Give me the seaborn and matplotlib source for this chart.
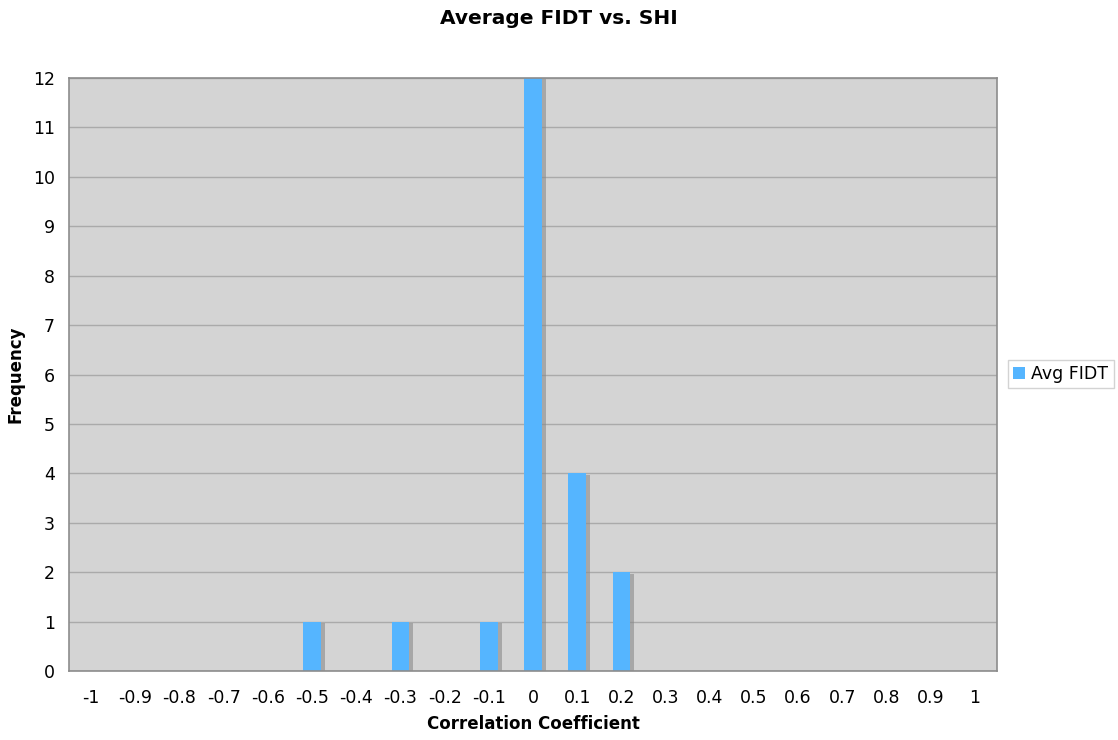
import matplotlib
matplotlib.use("Agg")
import matplotlib.pyplot as plt
import matplotlib.patheffects as pe
import seaborn as sns
import pandas as pd

# Correlation coefficient bins and how many items fell in each
bins = ["-1", "-0.9", "-0.8", "-0.7", "-0.6", "-0.5", "-0.4", "-0.3", "-0.2", "-0.1",
        "0", "0.1", "0.2", "0.3", "0.4", "0.5", "0.6", "0.7", "0.8", "0.9", "1"]
avg_fidt = [0, 0, 0, 0, 0, 1, 0, 1, 0, 1, 12, 4, 2, 0, 0, 0, 0, 0, 0, 0, 0]
series_name = "Avg FIDT"

df = pd.DataFrame({"bin": bins, "count": avg_fidt, "series": series_name})

sns.set_style("white")
plt.rcParams["font.family"] = ["DejaVu Sans"]
plt.rcParams["text.color"] = "black"
plt.rcParams["axes.labelcolor"] = "black"

fig = plt.figure(figsize=(11.18, 7.40), dpi=100)
ax = fig.add_axes([0.0617, 0.0932, 0.8301, 0.8014])

bar_color = "#55b5ff"
sns.barplot(data=df, x="bin", y="count", hue="series", order=bins,
            palette=[bar_color], width=0.4, ax=ax, legend=False,
            saturation=1.0)

for p in ax.patches:
    p.set_edgecolor("none")
    p.set_path_effects([
        pe.SimplePatchShadow(offset=(3, -1), shadow_rgbFace="#8a8a8a", alpha=0.6),
        pe.Normal(),
    ])

ax.set_facecolor("#d4d4d4")
ax.set_xlim(-0.5, len(bins) - 0.5)
ax.set_ylim(0, 12)
ax.set_yticks(range(0, 13))
ax.grid(axis="y", color="#aaaaaa", linewidth=1.0)
ax.set_axisbelow(True)

for side in ["left", "bottom", "top", "right"]:
    ax.spines[side].set_visible(True)
    ax.spines[side].set_color("#8c8c8c")
    ax.spines[side].set_linewidth(1.2)

# ticks on the x axis sit between the bins
ax.set_xticks(range(len(bins)))
ax.set_xticklabels(bins)
ax.set_xticks([i - 0.5 for i in range(len(bins) + 1)], minor=True)
ax.tick_params(axis="x", which="major", length=0, pad=13, labelsize=12.5)
ax.tick_params(axis="x", which="minor", length=6, color="#8c8c8c", width=1)
ax.tick_params(axis="y", which="major", length=6, color="#8c8c8c", width=1,
               labelsize=12.5, pad=4)
for lbl in ax.get_xticklabels() + ax.get_yticklabels():
    lbl.set_color("black")

ax.set_xlabel("Correlation Coefficient", fontsize=12, fontweight="bold", labelpad=6)
ax.set_ylabel("Frequency", fontsize=12, fontweight="bold")
ax.yaxis.set_label_coords(-0.0474, 0.5)
fig.text(0.5, 1 - 18 / 740, "Average FIDT vs. SHI", fontsize=14.5,
         fontweight="bold", ha="center", va="center", color="black")

handle = plt.Rectangle((0, 0), 1, 1, facecolor=bar_color, edgecolor="none")
fig.legend([handle], [series_name], loc="center left",
           bbox_to_anchor=(1008 / 1118, 1 - 374 / 740), fontsize=12.5,
           frameon=True, fancybox=False, edgecolor="#c8c8c8",
           handlelength=0.7, handleheight=0.7, handletextpad=0.35,
           borderpad=0.3, borderaxespad=0, labelcolor="black")

fig.savefig("out.png", dpi=100, facecolor="white")
